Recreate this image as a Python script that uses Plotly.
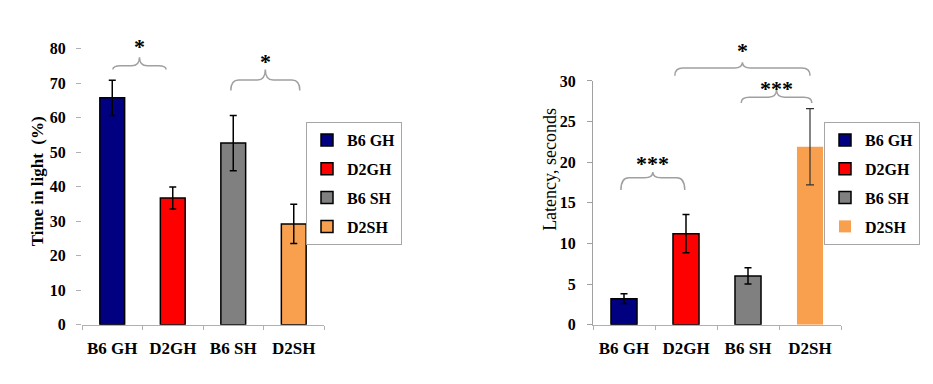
import plotly.graph_objects as go

# ---------------- data ----------------
categories = ["B6 GH", "D2GH", "B6 SH", "D2SH"]
bar_colors = ["#000080", "#ff0000", "#808080", "#f9a04f"]

time_in_light = [65.7, 36.7, 52.6, 29.2]
time_in_light_err = [5.1, 3.2, 8.0, 5.7]
left_ticks = [0, 10, 20, 30, 40, 50, 60, 70, 80]

latency = [3.2, 11.2, 6.0, 21.9]
latency_err = [0.6, 2.35, 1.0, 4.7]
right_ticks = [0, 5, 10, 15, 20, 25, 30]

# significance brackets: (start category pos, end category pos, bracket level, label, label level)
left_brackets = [(0.01, 0.89, 75.0, "*", 80.7), (1.96, 3.10, 70.9, "*", 76.3)]
right_brackets = [(0.82, 3.00, 31.6, "*", 33.8), (1.89, 3.03, 28.0, "***", 29.1),
                  (-0.05, 0.98, 18.1, "***", 19.8)]
# bracket hook / peak sizes in pixels
left_brace_px = [(4, 9), (11, 11)]
right_brace_px = [(8, 6), (6, 8), (13, 6)]

# ---------------- layout constants ----------------
W, H = 933, 384
FONT = "Liberation Serif, Times New Roman, serif"
L_XDOM = [74 / W, 316 / W]
R_XDOM = [585 / W, 833 / W]
L_YDOM = [1 - 323 / H, 1 - 34 / H]
R_YDOM = [1 - 323 / H, 1 - 68 / H]
L_RANGE = [0, 80]
R_RANGE = [0, 30]


def to_paper(v, dom, rng):
    return dom[0] + (v - rng[0]) / (rng[1] - rng[0]) * (dom[1] - dom[0])


fig = go.Figure()

for i, cat in enumerate(categories):
    fig.add_trace(go.Bar(
        x=[cat], y=[time_in_light[i]], name=cat, width=0.41,
        marker=dict(color=bar_colors[i], line=dict(color="black", width=1.5)),
        error_y=dict(type="data", array=[time_in_light_err[i]], color="black",
                     thickness=1.5, width=3.5),
        xaxis="x", yaxis="y", legend="legend", legendgroup="L" + cat,
        hoverinfo="x+y",
    ))

for i, cat in enumerate(categories):
    last = i == len(categories) - 1
    fig.add_trace(go.Bar(
        x=[cat], y=[latency[i]], name=cat, width=0.42,
        marker=dict(color=bar_colors[i],
                    line=dict(color="black", width=0 if last else 1.5)),
        error_y=dict(type="data", array=[latency_err[i]],
                     color="#333333" if last else "black",
                     thickness=1.2 if last else 1.5, width=4 if last else 3.5),
        xaxis="x2", yaxis="y2", legend="legend2", legendgroup="R" + cat,
        hoverinfo="x+y",
    ))

shapes = []
annotations = []


def add_brackets(specs, px_sizes, xref, dom, rng):
    for (x0, x1, lvl, label, ly), (hook, peak) in zip(specs, px_sizes):
        yh = to_paper(lvl, dom, rng)
        yb = yh - hook / H
        yp = yh + peak / H
        xc = (x0 + x1) / 2
        r = 0.13
        path = (f"M {x0},{yb} Q {x0},{yh} {x0 + r},{yh} L {xc - r},{yh} "
                f"Q {xc},{yh} {xc},{yp} Q {xc},{yh} {xc + r},{yh} "
                f"L {x1 - r},{yh} Q {x1},{yh} {x1},{yb}")
        shapes.append(dict(type="path", path=path, xref=xref, yref="paper",
                           line=dict(color="#a0a0a0", width=1.5)))
        annotations.append(dict(text=label, x=xc, y=to_paper(ly, dom, rng),
                                xref=xref, yref="paper", showarrow=False,
                                xanchor="center", yanchor="middle",
                                font=dict(family=FONT, size=22, color="black",
                                          weight="bold")))


add_brackets(left_brackets, left_brace_px, "x", L_YDOM, L_RANGE)
add_brackets(right_brackets, right_brace_px, "x2", R_YDOM, R_RANGE)

annotations.append(dict(text="Time in light  (%)", x=29 / W, y=1 - 173 / H,
                        xref="paper", yref="paper", textangle=-90, showarrow=False,
                        xanchor="center", yanchor="middle",
                        font=dict(family=FONT, size=17, color="black", weight="bold")))
annotations.append(dict(text="Latency, seconds", x=542 / W, y=1 - 161 / H,
                        xref="paper", yref="paper", textangle=-90, showarrow=False,
                        xanchor="center", yanchor="middle",
                        font=dict(family=FONT, size=18, color="black")))

tickfont = dict(family=FONT, size=16, color="black", weight="bold")
xtickfont = dict(family=FONT, size=17, color="black", weight="bold")

xaxis_common = dict(type="category", categoryorder="array", categoryarray=categories,
                    range=[-0.5, 3.5], showline=True, linecolor="#b0b0b0", linewidth=1,
                    ticks="outside", tickson="boundaries", ticklen=4, tickcolor="#b0b0b0",
                    tickfont=xtickfont, ticklabelstandoff=8, showgrid=False,
                    zeroline=False, fixedrange=True)

legend_common = dict(xanchor="left", yanchor="top", bordercolor="#a6a6a6", borderwidth=1,
                     bgcolor="white", tracegroupgap=5, traceorder="grouped",
                     font=dict(family=FONT, size=16, color="black", weight="bold"))

fig.update_layout(
    width=W, height=H, autosize=False,
    margin=dict(l=0, r=0, t=0, b=0),
    font=dict(family=FONT, color="black"),
    paper_bgcolor="white", plot_bgcolor="white",
    barmode="overlay",
    showlegend=True,
    xaxis=dict(domain=L_XDOM, anchor="y", **xaxis_common),
    xaxis2=dict(domain=R_XDOM, anchor="y2", **xaxis_common),
    yaxis=dict(domain=L_YDOM, anchor="x", range=L_RANGE, tickvals=left_ticks,
               showline=False, ticks="outside", ticklen=5, tickcolor="#b0b0b0",
               tickfont=tickfont, ticklabelstandoff=7, showgrid=False,
               zeroline=False, fixedrange=True),
    yaxis2=dict(domain=R_YDOM, anchor="x2", range=R_RANGE, tickvals=right_ticks,
                showline=True, linecolor="#a0a0a0", linewidth=1.2,
                ticks="outside", ticklen=5, tickcolor="#a0a0a0",
                tickfont=tickfont, ticklabelstandoff=8, showgrid=False,
                zeroline=False, fixedrange=True),
    legend=dict(x=298 / W, y=1 - 111 / H, **legend_common),
    legend2=dict(x=816 / W, y=1 - 111 / H, **legend_common),
    shapes=shapes,
    annotations=annotations,
)

fig.write_html("out.html")
